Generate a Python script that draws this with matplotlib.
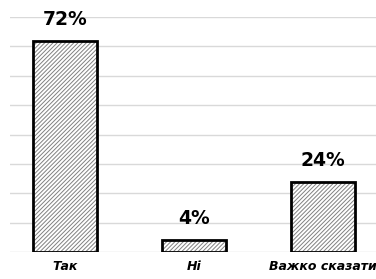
import matplotlib.pyplot as plt

categories = ['Так', 'Ні', 'Важко сказати']
values = [72, 4, 24]
labels = ['72%', '4%', '24%']

plt.rcParams['hatch.linewidth'] = 0.7
plt.rcParams['hatch.color'] = '#808080'

fig = plt.figure(figsize=(3.76, 2.79), dpi=100, facecolor='white')
ax = fig.add_axes([10 / 376, 27 / 279, 366 / 376, 235 / 279])
ax.set_facecolor('white')

x = range(len(categories))
ax.bar(x, values, width=0.496, color='white', edgecolor='#808080',
       hatch='////////', linewidth=0, zorder=2)
ax.bar(x, values, width=0.496, fill=False, edgecolor='black',
       linewidth=2, zorder=3)

for i, v in enumerate(values):
    ax.text(i, v + 4.0, labels[i], ha='center', va='bottom',
            fontsize=13.5, fontweight='bold', color='black')

ax.set_xlim(-0.426, 2.411)
ax.set_ylim(0, 80)
ax.set_yticks(range(0, 81, 10))
ax.yaxis.grid(True, color='#d9d9d9', linewidth=1, zorder=0)
ax.set_axisbelow(True)
ax.tick_params(left=False, labelleft=False, bottom=False, length=0)
ax.set_xticks(list(x))
ax.set_xticklabels(categories, fontsize=9, fontstyle='italic',
                   fontweight='bold')
ax.tick_params(axis='x', pad=6)
for s in ax.spines.values():
    s.set_visible(False)

fig.savefig('out.png', dpi=100, facecolor='white')
